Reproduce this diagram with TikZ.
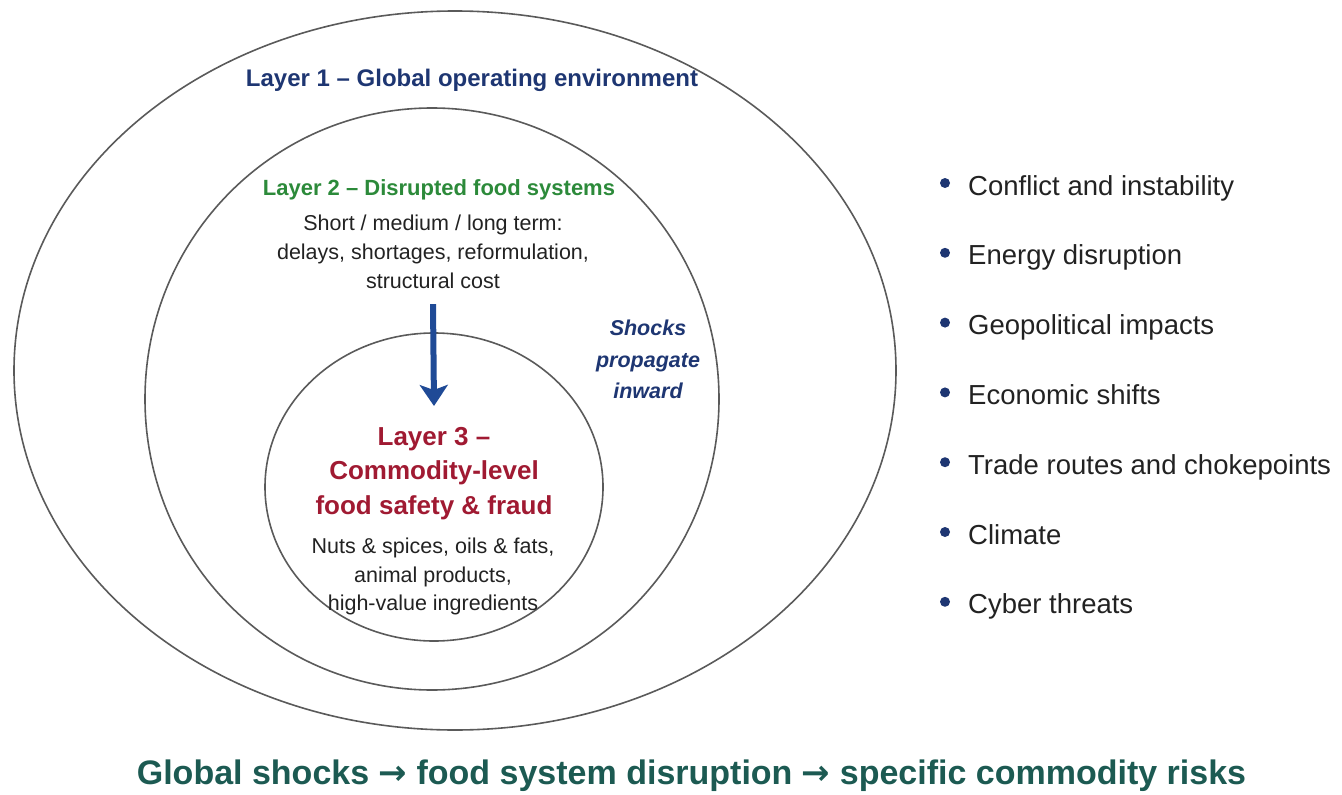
\documentclass[tikz,border=0pt]{standalone}
\usepackage{fontspec}
\setmainfont{Liberation Sans}
\newfontfamily\arrowfont{DejaVu Sans}
\usetikzlibrary{arrows.meta}

\definecolor{navyone}{HTML}{1E3672}
\definecolor{greentwo}{HTML}{2C8A3A}
\definecolor{redthree}{HTML}{A01A32}
\definecolor{arrowblue}{HTML}{1F4A96}
\definecolor{ringgray}{HTML}{5A5A5A}
\definecolor{flowteal}{HTML}{1C5A52}
\definecolor{bodytext}{HTML}{222222}

\newcommand{\flowarrow}{{\arrowfont\bfseries →}}

\tikzset{
  ring/.style={draw=ringgray, line width=1.6pt},
  layertitle/.style={inner sep=0pt, align=center},
  bodytxt/.style={inner sep=0pt, align=center, text=bodytext},
  bullettxt/.style={inner sep=0pt, anchor=base west, text=bodytext, font=\fontsize{27.5}{32}\selectfont},
  pusharrow/.style={draw=arrowblue, line width=6pt, -{Stealth[length=21pt,width=28pt,inset=5pt]}},
}

\begin{document}
\begin{tikzpicture}[x=1pt, y=-1pt]
  \useasboundingbox (0,0) rectangle (1342,795);
  % anelli
  \draw[ring] (455,370.5) ellipse [x radius=441, y radius=359.5];
  \draw[ring] (432,399) ellipse [x radius=287, y radius=291];
  \draw[ring] (434,487) ellipse [x radius=169, y radius=154];
  % layer 1
  \node[layertitle, text=navyone, font=\bfseries\fontsize{24}{28}\selectfont, anchor=base] (l1title) at (472,86) {Layer 1 – Global operating environment};
  % layer 2
  \node[layertitle, text=greentwo, font=\bfseries\fontsize{22}{26}\selectfont, anchor=base] (l2title) at (439,195) {Layer 2 – Disrupted food systems};
  \node[bodytxt, font=\fontsize{21.5}{29}\selectfont, anchor=north] (l2body) at (433,215) {Short / medium / long term:\\ delays, shortages, reformulation,\\ structural cost};
  \node[layertitle, text=navyone, font=\bfseries\itshape\fontsize{21.5}{31.5}\selectfont, anchor=north] (shocks) at (648,320) {Shocks\\ propagate\\ inward};
  % layer 3
  \node[layertitle, text=redthree, font=\bfseries\fontsize{26}{34.5}\selectfont, anchor=north] (l3title) at (434,427) {Layer 3 –\\ Commodity-level\\ food safety \& fraud};
  \node[bodytxt, font=\fontsize{21.5}{28.5}\selectfont, anchor=north] (l3body) at (433,538) {Nuts \& spices, oils \& fats,\\ animal products,\\ high-value ingredients};
  % freccia
  \draw[pusharrow] ([yshift=-15pt]l2body.south) -- ([yshift=21pt]l3title.north);
  % elenco
  \foreach \drv [count=\i] in {Conflict and instability, Energy disruption, Geopolitical impacts, Economic shifts, Trade routes and chokepoints, Climate, Cyber threats} {
    \fill[navyone] (945,{183+(\i-1)*69.8}) circle [radius=5];
    \node[bullettxt] (drv\i) at (968,{195+(\i-1)*69.8}) {\drv};
  }
  % flusso
  \node[layertitle, text=flowteal, font=\bfseries\fontsize{34}{38}\selectfont, anchor=base] (flow) at (691.5,784) {Global shocks \flowarrow{} food system disruption \flowarrow{} specific commodity risks};
\end{tikzpicture}
\end{document}
